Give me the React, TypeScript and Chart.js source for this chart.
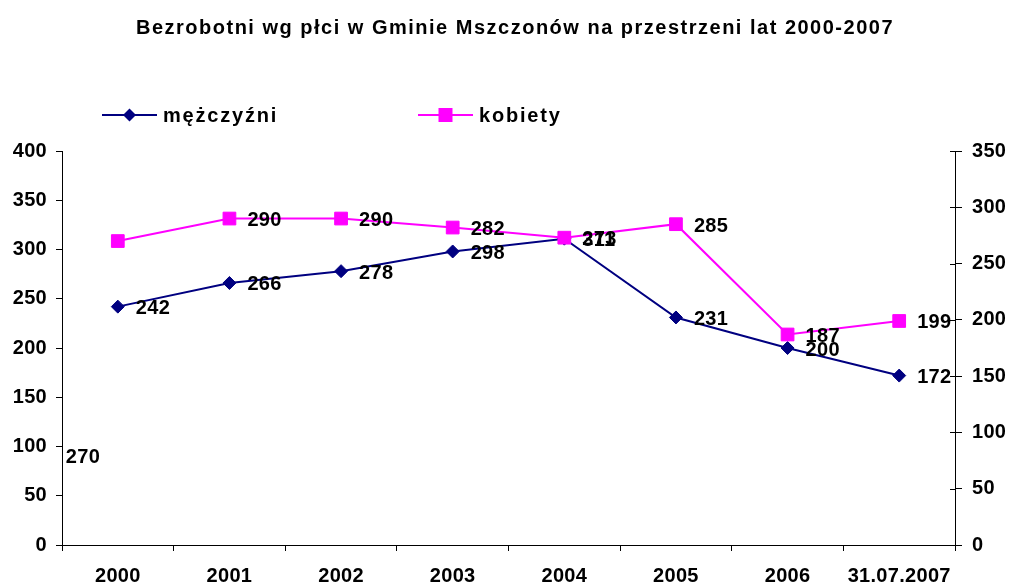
import React, { useEffect, useRef } from 'react';
import { Chart, registerables } from 'chart.js';

Chart.register(...registerables);

const titleText = 'Bezrobotni wg płci w Gminie Mszczonów na przestrzeni lat 2000-2007';
const categories = ['2000', '2001', '2002', '2003', '2004', '2005', '2006', '31.07.2007'];
const menLabel = 'mężczyźni';
const womenLabel = 'kobiety';
const menValues = [242, 266, 278, 298, 311, 231, 200, 172];
const womenValues = [270, 290, 290, 282, 273, 285, 187, 199];
const leftAxisMax = 400;
const rightAxisMax = 350;
const axisStep = 50;

const FONT = '"Liberation Sans", Arial, sans-serif';
const FONT_SIZE = 20;
const MEN_COLOR = '#000080';
const WOMEN_COLOR = '#FF00FF';

// special placement of a data label (dataset index, point index) -> offset from point
const labelOverrides: Record<string, { dx: number; dy: number }> = {
  '1-0': { dx: -52, dy: 222 },
};

const spacingPlugin = {
  id: 'spacing',
  beforeDraw(chart: any) {
    (chart.ctx as any).letterSpacing = '0.3px';
  },
};

const rightTicksPlugin = {
  id: 'rightTicks',
  afterDraw(chart: any) {
    const s = chart.scales.yR;
    const ctx = chart.ctx;
    ctx.save();
    ctx.strokeStyle = '#000';
    ctx.lineWidth = 1;
    s.ticks.forEach((t: any) => {
      const y = Math.round(s.getPixelForValue(t.value)) + 0.5;
      ctx.beginPath();
      ctx.moveTo(s.left - 5, y);
      ctx.lineTo(s.left, y);
      ctx.stroke();
    });
    ctx.restore();
  },
};

const dataLabelsPlugin = {
  id: 'dataLabels',
  afterDatasetsDraw(chart: any) {
    const ctx = chart.ctx;
    ctx.save();
    ctx.font = `bold ${FONT_SIZE}px ${FONT}`;
    (ctx as any).letterSpacing = '0.3px';
    ctx.fillStyle = '#000';
    ctx.textAlign = 'left';
    ctx.textBaseline = 'alphabetic';
    chart.data.datasets.forEach((ds: any, di: number) => {
      const meta = chart.getDatasetMeta(di);
      meta.data.forEach((pt: any, i: number) => {
        const o = labelOverrides[`${di}-${i}`] || { dx: 18, dy: 7.5 };
        ctx.fillText(String(ds.data[i]), pt.x + o.dx, pt.y + o.dy);
      });
    });
    ctx.restore();
  },
};

const headerPlugin = {
  id: 'header',
  afterDraw(chart: any) {
    const ctx = chart.ctx;
    ctx.save();
    ctx.fillStyle = '#000';
    ctx.font = `bold ${FONT_SIZE}px ${FONT}`;
    (ctx as any).letterSpacing = '1.5px';
    ctx.textAlign = 'center';
    ctx.textBaseline = 'alphabetic';
    ctx.fillText(titleText, 515, 34);

    const items = [
      { ds: 0, x: 102, text: menLabel },
      { ds: 1, x: 418, text: womenLabel },
    ];
    const y = 115;
    items.forEach((it) => {
      const ds: any = chart.data.datasets[it.ds];
      ctx.strokeStyle = ds.borderColor;
      ctx.lineWidth = 2;
      ctx.beginPath();
      ctx.moveTo(it.x, y);
      ctx.lineTo(it.x + 55, y);
      ctx.stroke();
      ctx.fillStyle = ds.backgroundColor;
      ctx.beginPath();
      const cx = it.x + 27.5;
      if (ds.pointStyle === 'rectRot') {
        const r = 6.5;
        ctx.moveTo(cx - r, y);
        ctx.lineTo(cx, y - r);
        ctx.lineTo(cx + r, y);
        ctx.lineTo(cx, y + r);
        ctx.closePath();
      } else {
        const h = 7;
        ctx.rect(cx - h, y - h, 2 * h, 2 * h);
      }
      ctx.fill();
      ctx.fillStyle = '#000';
      ctx.font = `bold ${FONT_SIZE}px ${FONT}`;
      (ctx as any).letterSpacing = '1.8px';
      ctx.textAlign = 'left';
      ctx.fillText(it.text, it.x + 61, 122);
    });
    ctx.restore();
  },
};

export default function App() {
  const ref = useRef<HTMLCanvasElement | null>(null);

  useEffect(() => {
    if (!ref.current) return;
    const tickFont = { family: FONT, size: FONT_SIZE, weight: 'bold' as const };
    const chart = new Chart(ref.current, {
      type: 'line',
      data: {
        labels: categories,
        datasets: [
          {
            label: menLabel,
            data: menValues,
            yAxisID: 'yL',
            borderColor: MEN_COLOR,
            backgroundColor: MEN_COLOR,
            borderWidth: 2,
            pointStyle: 'rectRot',
            pointRadius: 6.5,
            pointBorderWidth: 1,
            pointBackgroundColor: MEN_COLOR,
            pointBorderColor: MEN_COLOR,
            tension: 0,
            order: 2,
          },
          {
            label: womenLabel,
            data: womenValues,
            yAxisID: 'yR',
            borderColor: WOMEN_COLOR,
            backgroundColor: WOMEN_COLOR,
            borderWidth: 2,
            pointStyle: 'rect',
            pointRadius: 9,
            pointBorderWidth: 1,
            pointBackgroundColor: WOMEN_COLOR,
            pointBorderColor: WOMEN_COLOR,
            tension: 0,
            order: 1,
          },
        ],
      },
      options: {
        responsive: false,
        animation: false,
        devicePixelRatio: 1,
        layout: { padding: { top: 151, left: 0, right: 0, bottom: 0 } },
        plugins: {
          legend: { display: false },
          title: { display: false },
          tooltip: { enabled: false },
        },
        scales: {
          x: {
            type: 'category',
            offset: true,
            grid: { offset: true, drawOnChartArea: false, drawTicks: true, tickLength: 6, color: '#000', lineWidth: 1 },
            border: { display: true, color: '#000', width: 1 },
            ticks: { color: '#000', font: tickFont, padding: 13, maxRotation: 0, autoSkip: false },
            afterFit: (s: any) => { s.height = 41; },
          },
          yL: {
            type: 'linear',
            position: 'left',
            min: 0,
            max: leftAxisMax,
            grid: { drawOnChartArea: false, drawTicks: true, tickLength: 6, color: '#000' },
            border: { display: true, color: '#000', width: 1 },
            ticks: { stepSize: axisStep, color: '#000', font: tickFont, padding: 9 },
            afterFit: (s: any) => { s.width = 62; },
          },
          yR: {
            type: 'linear',
            position: 'right',
            min: 0,
            max: rightAxisMax,
            grid: { drawOnChartArea: false, drawTicks: true, tickLength: 7, color: '#000' },
            border: { display: true, color: '#000', width: 1 },
            ticks: { stepSize: axisStep, color: '#000', font: tickFont, padding: 10 },
            afterFit: (s: any) => { s.width = 56; },
          },
        },
      },
      plugins: [spacingPlugin, rightTicksPlugin, dataLabelsPlugin, headerPlugin],
    });
    return () => chart.destroy();
  }, []);

  return (
    <div style={{ position: 'fixed', left: 0, top: 0, width: 1011, height: 586, background: '#fff' }}>
      <canvas ref={ref} width={1011} height={586} style={{ width: 1011, height: 586, display: 'block' }} />
    </div>
  );
}
